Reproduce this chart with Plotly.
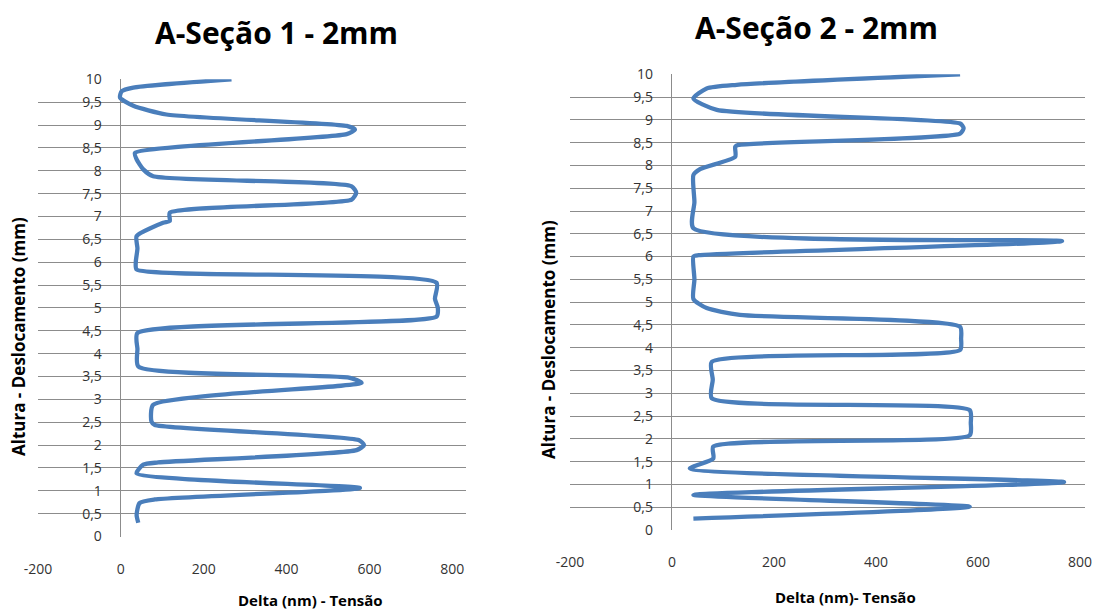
import plotly.graph_objects as go

# ---------------- data ----------------
left_delta = [42, 38, 45, 82, 577, 38, 54, 90, 569, 587, 574, 82, 74, 78, 581, 553,
              42, 40, 40, 762, 765, 758, 762, 38, 36, 40, 38, 102, 118, 118, 557, 568,
              557, 78, 54, 38, 34, 545, 565, 545, 110, 30, -2, 2, 30, 267]
left_height = [0.3, 0.47, 0.73, 0.81, 1.06, 1.38, 1.57, 1.62, 1.89, 2.0, 2.11, 2.44, 2.51,
               2.88, 3.36, 3.47, 3.72, 4.1, 4.45, 4.81, 5.0, 5.2, 5.55, 5.84, 6.0, 6.3,
               6.57, 6.86, 6.9, 7.08, 7.37, 7.52, 7.66, 7.88, 8.03, 8.25, 8.39, 8.8, 8.9,
               8.98, 9.23, 9.42, 9.6, 9.74, 9.82, 10.0]

right_delta = [42, 584, 42, 769, 35, 81, 81, 584, 586, 584, 78, 80, 78, 565, 567, 565,
               133, 68, 42, 44, 42, 52, 765, 42, 44, 42, 55, 124, 124, 130, 565, 572,
               565, 88, 42, 68, 127, 565]
right_height = [0.25, 0.51, 0.77, 1.05, 1.35, 1.57, 1.83, 2.08, 2.35, 2.63, 2.89, 3.3,
                3.69, 3.95, 4.2, 4.46, 4.72, 4.87, 5.07, 5.5, 6.0, 6.03, 6.34, 6.62, 7.2,
                7.79, 7.92, 8.19, 8.41, 8.45, 8.7, 8.82, 8.92, 9.22, 9.47, 9.69, 9.77, 10.0]

x_tickvals = [-200, 0, 200, 400, 600, 800]
x_ticktext = ["-200", "0", "200", "400", "600", "800"]
y_tickvals = [0, 0.5, 1, 1.5, 2, 2.5, 3, 3.5, 4, 4.5, 5, 5.5, 6, 6.5, 7, 7.5, 8, 8.5,
              9, 9.5, 10]
y_ticktext = ["0", "0,5", "1", "1,5", "2", "2,5", "3", "3,5", "4", "4,5", "5", "5,5",
              "6", "6,5", "7", "7,5", "8", "8,5", "9", "9,5", "10"]

titles = ["A-Seção 1 - 2mm", "A-Seção 2 - 2mm"]
x_titles = ["Delta (nm) - Tensão", "Delta (nm)- Tensão"]
y_title = "Altura - Deslocamento (mm)"

# ---------------- layout geometry ----------------
W, H = 1103, 609
LINE = "#4A7EBB"
GRID = "#8c8c8c"
FONT = "Open Sans"
TICKCOL = "#333333"

def px_x(p):
    return p / W

def px_y(p):
    return 1 - p / H

# left panel pixels
L_x0, L_x1, L_xr = 38, 466, [-200, 833]
L_ytop, L_ybot = 79.3, 536.5
# right panel pixels
R_x0, R_x1, R_xr = 570, 1085, [-200, 810]
R_ytop, R_ybot = 74.3, 530

def zero_pos(x0, x1, xr):
    return px_x(x0 + (0 - xr[0]) / (xr[1] - xr[0]) * (x1 - x0))

fig = go.Figure()
fig.add_trace(go.Scatter(x=left_delta, y=left_height, mode="lines",
                         line=dict(color=LINE, width=4.3, shape="spline", smoothing=0.6),
                         xaxis="x", yaxis="y", showlegend=False))
fig.add_trace(go.Scatter(x=right_delta, y=right_height, mode="lines",
                         line=dict(color=LINE, width=4.3, shape="spline", smoothing=0.6),
                         xaxis="x2", yaxis="y2", showlegend=False))

def xaxis(dom, rng, anchor):
    return dict(domain=dom, range=rng, anchor=anchor, showgrid=False, automargin=False,
                zeroline=True, zerolinecolor=GRID, zerolinewidth=1,
                showline=False, tickmode="array", tickvals=x_tickvals,
                ticktext=x_ticktext, ticks="", ticklabelstandoff=22,
                tickfont=dict(family=FONT, size=14, color=TICKCOL), fixedrange=True)

def yaxis(dom, pos):
    return dict(domain=dom, range=[0, 10], anchor="free", position=pos, automargin=False,
                showgrid=True, gridcolor=GRID, gridwidth=1, zeroline=False,
                showline=False, tickmode="array", tickvals=y_tickvals,
                ticktext=y_ticktext, ticks="", ticklabelstandoff=19,
                tickfont=dict(family=FONT, size=14, color=TICKCOL), fixedrange=True)

fig.update_layout(
    template="none",
    width=W, height=H,
    margin=dict(l=0, r=0, t=0, b=0, autoexpand=False),
    paper_bgcolor="white", plot_bgcolor="white",
    xaxis=xaxis([px_x(L_x0), px_x(L_x1)], L_xr, "y"),
    yaxis=yaxis([px_y(L_ybot), px_y(L_ytop)], zero_pos(L_x0, L_x1, L_xr)),
    xaxis2=xaxis([px_x(R_x0), px_x(R_x1)], R_xr, "y2"),
    yaxis2=yaxis([px_y(R_ybot), px_y(R_ytop)], zero_pos(R_x0, R_x1, R_xr)),
)

ann = []
for txt, cx, cy in [(titles[0], 276, 32), (titles[1], 816, 28)]:
    ann.append(dict(text="<b>" + txt + "</b>", x=px_x(cx), y=px_y(cy), xref="paper",
                    yref="paper", showarrow=False, xanchor="center", yanchor="middle",
                    font=dict(family=FONT, size=30, color="black")))
for txt, cx, cy in [(x_titles[0], 310, 600), (x_titles[1], 845, 597)]:
    ann.append(dict(text="<b>" + txt + "</b>", x=px_x(cx), y=px_y(cy), xref="paper",
                    yref="paper", showarrow=False, xanchor="center", yanchor="middle",
                    font=dict(family=FONT, size=15, color="black")))
for cx, cy in [(18, 337), (548, 340)]:
    ann.append(dict(text="<b>" + y_title + "</b>", x=px_x(cx), y=px_y(cy), xref="paper",
                    yref="paper", showarrow=False, xanchor="center", yanchor="middle",
                    textangle=-90, font=dict(family=FONT, size=17, color="black")))
fig.update_layout(annotations=ann)

fig.write_html("out.html", config={"displayModeBar": False},
               post_script="document.body.style.margin='0';document.body.style.overflow='hidden';")
